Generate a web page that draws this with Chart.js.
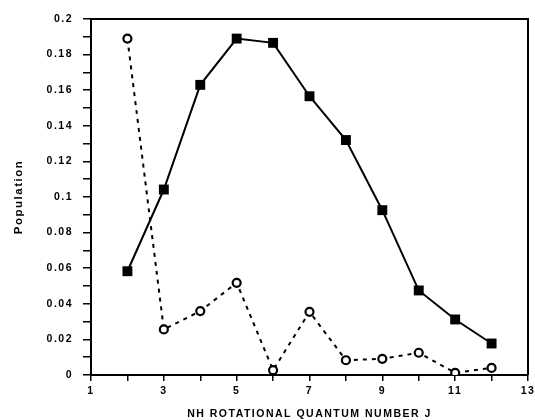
<!DOCTYPE html>
<html>
<head>
<meta charset="utf-8">
<script src="https://cdn.jsdelivr.net/npm/chart.js@4/dist/chart.umd.min.js"></script>
<style>
  html, body { margin: 0; padding: 0; background: #fff; }
  #wrap { width: 535px; height: 420px; position: relative; }
</style>
</head>
<body>
<div id="wrap"><canvas id="c"></canvas></div>
<script>
// ---- data ----
const jValues = [2, 3, 4, 5, 6, 7, 8, 9, 10, 11, 12];
const filledSquares = [0.0583, 0.1042, 0.1630, 0.1890, 0.1866, 0.1566, 0.1320, 0.0926, 0.0475, 0.0312, 0.0177];
const openCircles   = [0.1890, 0.0256, 0.0359, 0.0518, 0.0027, 0.0355, 0.0083, 0.0091, 0.0125, 0.0012, 0.0040];
const xTickLabels = ['1', '3', '5', '7', '9', '11', '13'];
const yTickLabels = ['0', '0.02', '0.04', '0.06', '0.08', '0.1', '0.12', '0.14', '0.16', '0.18', '0.2'];
const xTitle = 'NH ROTATIONAL QUANTUM NUMBER J';
const yTitle = 'Population';

const FONT = "'Liberation Sans', Arial, Helvetica, sans-serif";

const spacingPlugin = {
  id: 'spacing',
  beforeUpdate(chart) { chart.ctx.letterSpacing = '1.5px'; },
  beforeDraw(chart) { chart.ctx.letterSpacing = '1.5px'; }
};

const framePlugin = {
  id: 'frame',
  afterDatasetsDraw(chart) {
    const {ctx, chartArea: a} = chart;
    ctx.save();
    ctx.strokeStyle = '#000';
    ctx.lineWidth = 2;
    ctx.beginPath();
    ctx.moveTo(a.left, a.top);
    ctx.lineTo(a.right, a.top);
    ctx.lineTo(a.right, a.bottom);
    ctx.stroke();
    ctx.restore();
  }
};

new Chart(document.getElementById('c'), {
  type: 'line',
  data: {
    datasets: [
      {
        label: 'filled',
        data: jValues.map((j, i) => ({x: j, y: filledSquares[i]})),
        borderColor: '#000',
        backgroundColor: '#000',
        borderWidth: 2,
        pointStyle: 'rect',
        pointRadius: 7,
        pointBorderWidth: 0,
        pointBackgroundColor: '#000',
        tension: 0
      },
      {
        label: 'open',
        data: jValues.map((j, i) => ({x: j, y: openCircles[i]})),
        borderColor: '#000',
        backgroundColor: '#fff',
        borderWidth: 2,
        borderDash: [4, 5],
        pointStyle: 'circle',
        pointRadius: 4,
        pointBorderWidth: 2.2,
        pointBorderColor: '#000',
        pointBackgroundColor: '#fff',
        tension: 0
      }
    ]
  },
  options: {
    responsive: true,
    maintainAspectRatio: false,
    animation: false,
    events: [],
    layout: { padding: { left: 0, top: 19, right: 3, bottom: 0 } },
    plugins: { legend: { display: false }, tooltip: { enabled: false } },
    scales: {
      x: {
        type: 'linear',
        position: 'bottom',
        min: 1, max: 13,
        afterFit(s) { s.height = 45; s.paddingLeft = 0; s.paddingRight = 0; },
        border: { display: true, color: '#000', width: 2 },
        grid: { drawOnChartArea: false, drawTicks: true, tickLength: 6, color: '#000', lineWidth: 1.5 },
        ticks: {
          stepSize: 1, autoSkip: false, maxRotation: 0, padding: 4, color: '#000',
          font: { family: FONT, size: 10.5, weight: 'bold' },
          callback: (v) => (Math.round(v) % 2 === 1 ? xTickLabels[(Math.round(v) - 1) / 2] : '')
        },
        title: {
          display: true, text: xTitle, color: '#000',
          font: { family: FONT, size: 10.5, weight: 'bold' },
          padding: { top: 0, bottom: 0 }
        }
      },
      y: {
        type: 'linear',
        position: 'left',
        min: 0, max: 0.2,
        afterFit(s) { s.width = 91; s.paddingTop = 0; s.paddingBottom = 0; },
        border: { display: true, color: '#000', width: 2 },
        grid: { drawOnChartArea: false, drawTicks: true, tickLength: 8, color: '#000', lineWidth: 1.5 },
        ticks: {
          stepSize: 0.01, autoSkip: false, padding: 10, color: '#000',
          font: { family: FONT, size: 10.5, weight: 'bold' },
          callback: (v) => {
            const k = Math.round(v * 100);
            return k % 2 === 0 ? yTickLabels[k / 2] : '';
          }
        },
        title: {
          display: true, text: yTitle, color: '#000',
          font: { family: FONT, size: 11.5, weight: 'bold' },
          padding: { top: 12, bottom: 0 }
        }
      }
    }
  },
  plugins: [spacingPlugin, framePlugin]
});
</script>
</body>
</html>
